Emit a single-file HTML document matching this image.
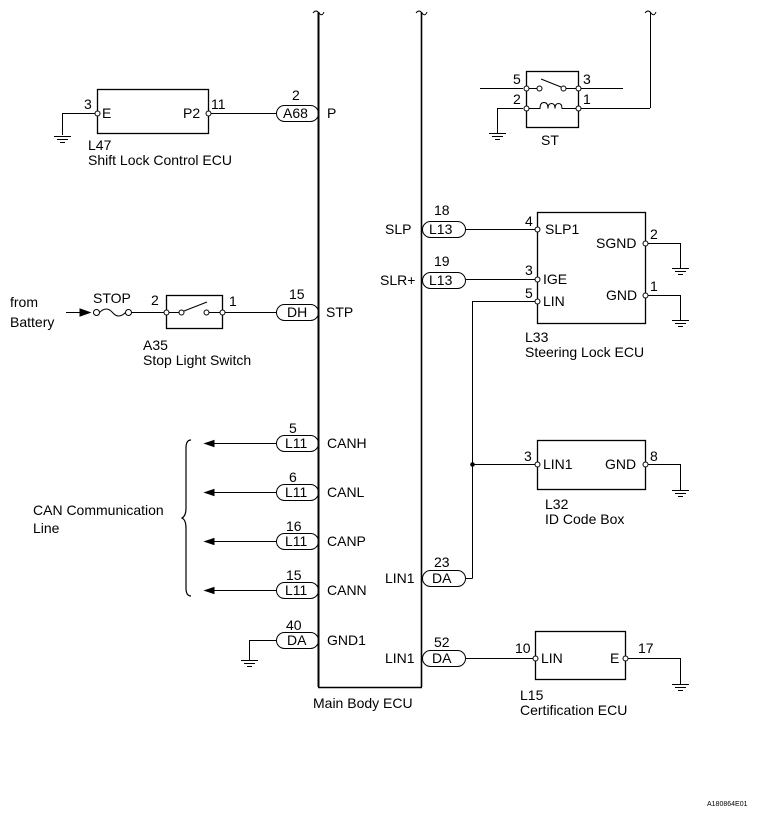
<!DOCTYPE html>
<html><head><meta charset="utf-8"><style>
html,body{margin:0;padding:0;background:#fff;}
svg{display:block;}
text{font-family:"Liberation Sans",Arial,sans-serif;font-size:14px;fill:#000;}
</style></head><body>
<svg width="761" height="815" viewBox="0 0 761 815" xmlns="http://www.w3.org/2000/svg">
<g fill="none" stroke="#000" stroke-width="1">
<line x1="318.5" y1="12" x2="318.5" y2="687" stroke-width="2"/>
<line x1="421.5" y1="12" x2="421.5" y2="687" stroke-width="1.6"/>
<line x1="318" y1="687.5" x2="422" y2="687.5" stroke-width="1.4"/>
<path d="M313 13 q3 -4 6 0 q3 4 5 -1"/>
<path d="M416 13 q3 -4 6 0 q3 4 5 -1"/>
<path d="M645 13 q3 -4 6 0 q3 4 5 -1"/>
<line x1="650.5" y1="12" x2="650.5" y2="108"/>
<line x1="650" y1="108.5" x2="581" y2="108.5"/>

<rect x="526.5" y="71.5" width="52" height="56" stroke-width="1.3"/>
<line x1="480" y1="88.5" x2="523" y2="88.5"/>
<line x1="581" y1="88.5" x2="623" y2="88.5"/>
<line x1="523" y1="108.5" x2="497.5" y2="108.5"/>
<line x1="497.5" y1="108" x2="497.5" y2="133"/>
<circle cx="526.5" cy="88.5" r="2.5" fill="#fff"/><circle cx="578.5" cy="88.5" r="2.5" fill="#fff"/>
<circle cx="526.5" cy="108.5" r="2.5" fill="#fff"/><circle cx="578.5" cy="108.5" r="2.5" fill="#fff"/>
<line x1="529" y1="88.5" x2="537" y2="88.5"/><circle cx="539.5" cy="88.5" r="2.5"/>
<line x1="541" y1="79" x2="561" y2="87"/><circle cx="563.5" cy="88.5" r="2.5"/>
<line x1="566" y1="88.5" x2="576" y2="88.5"/>
<path d="M529 108.5 h11 q0 -6 4 -6 q4 0 4 6 q0 -5 3.5 -5 q3.5 0 3.5 5 q0 -5 3.5 -5 q3.5 0 3.5 5 h14"/>

<rect x="97.5" y="89.5" width="111" height="44" stroke-width="1.3"/>
<line x1="95" y1="113.5" x2="62.5" y2="113.5"/>
<line x1="62.5" y1="113" x2="62.5" y2="135"/>
<line x1="211" y1="113.5" x2="276" y2="113.5"/>
<circle cx="97.5" cy="113.5" r="2.5" fill="#fff"/><circle cx="208.5" cy="113.5" r="2.5" fill="#fff"/>

<path d="M66 312.5 h22" /><path d="M80 309 l10 3.5 l-10 3.5z" fill="#000"/>
<circle cx="96.5" cy="312.5" r="3"/><circle cx="128.5" cy="312.5" r="3"/>
<path d="M99.5 312.5 q7 -7 13 0 q6 7 13 0"/>
<line x1="131" y1="312.5" x2="164" y2="312.5"/>
<rect x="166.5" y="295.5" width="56" height="33" stroke-width="1.3"/>
<circle cx="166.5" cy="312.5" r="2.5" fill="#fff"/><circle cx="222.5" cy="312.5" r="2.5" fill="#fff"/>
<line x1="169" y1="312.5" x2="179" y2="312.5"/><circle cx="181.5" cy="312.5" r="2.5"/>
<line x1="184" y1="311" x2="207" y2="302"/><circle cx="206.5" cy="312.5" r="2.5"/>
<line x1="209" y1="312.5" x2="220" y2="312.5"/>
<line x1="225" y1="312.5" x2="276" y2="312.5"/>

<rect x="276.5" y="105.5" width="42" height="16" rx="8"/>
<rect x="276.5" y="304.5" width="42" height="16" rx="8"/>
<rect x="276.5" y="435.5" width="42" height="16" rx="8"/>
<rect x="276.5" y="484.5" width="42" height="16" rx="8"/>
<rect x="276.5" y="533.5" width="42" height="16" rx="8"/>
<rect x="276.5" y="582.5" width="42" height="16" rx="8"/>
<rect x="276.5" y="632.5" width="42" height="16" rx="8"/>
<line x1="276" y1="443.5" x2="214" y2="443.5"/><path d="M214 440.5 l-9 3 l9 3z" fill="#000"/>
<line x1="276" y1="492.5" x2="214" y2="492.5"/><path d="M214 489.5 l-9 3 l9 3z" fill="#000"/>
<line x1="276" y1="541.5" x2="214" y2="541.5"/><path d="M214 538.5 l-9 3 l9 3z" fill="#000"/>
<line x1="276" y1="590.5" x2="214" y2="590.5"/><path d="M214 587.5 l-9 3 l9 3z" fill="#000"/>
<path d="M191 440 q-5 0 -5 8 v60 q0 8 -4 10 q4 2 4 10 v60 q0 8 5 8" stroke-width="1.2"/>
<line x1="276" y1="640.5" x2="249.5" y2="640.5"/><line x1="249.5" y1="640" x2="249.5" y2="660"/>

<rect x="422.5" y="221.5" width="43" height="16" rx="8"/>
<rect x="422.5" y="272.5" width="43" height="16" rx="8"/>
<rect x="422.5" y="570.5" width="43" height="16" rx="8"/>
<rect x="422.5" y="650.5" width="43" height="16" rx="8"/>
<line x1="466" y1="229.5" x2="535" y2="229.5"/>
<line x1="466" y1="279.5" x2="535" y2="279.5"/>
<line x1="535" y1="301.5" x2="472.5" y2="301.5"/>
<line x1="472.5" y1="301" x2="472.5" y2="578.5"/>
<line x1="472.5" y1="578.5" x2="466" y2="578.5"/>
<circle cx="472.5" cy="464.5" r="1.8" fill="#000"/>
<line x1="472" y1="464.5" x2="535" y2="464.5"/>
<line x1="466" y1="658.5" x2="533" y2="658.5"/>

<rect x="537.5" y="212.5" width="108" height="111" stroke-width="1.3"/>
<circle cx="537.5" cy="229.5" r="2.5" fill="#fff"/><circle cx="537.5" cy="279.5" r="2.5" fill="#fff"/><circle cx="537.5" cy="301.5" r="2.5" fill="#fff"/>
<circle cx="645.5" cy="243.5" r="2.5" fill="#fff"/><circle cx="645.5" cy="295.5" r="2.5" fill="#fff"/>
<line x1="648" y1="243.5" x2="680.5" y2="243.5"/><line x1="680.5" y1="243" x2="680.5" y2="268"/>
<line x1="648" y1="295.5" x2="680.5" y2="295.5"/><line x1="680.5" y1="295" x2="680.5" y2="320"/>

<rect x="537.5" y="440.5" width="108" height="49" stroke-width="1.3"/>
<circle cx="537.5" cy="464.5" r="2.5" fill="#fff"/><circle cx="645.5" cy="464.5" r="2.5" fill="#fff"/>
<line x1="648" y1="464.5" x2="680.5" y2="464.5"/><line x1="680.5" y1="464" x2="680.5" y2="490"/>

<rect x="535.5" y="631.5" width="90" height="48" stroke-width="1.3"/>
<circle cx="535.5" cy="658.5" r="2.5" fill="#fff"/><circle cx="625.5" cy="658.5" r="2.5" fill="#fff"/>
<line x1="628" y1="658.5" x2="680.5" y2="658.5"/><line x1="680.5" y1="658" x2="680.5" y2="684"/>

<path d="M54 136.5h17M57 139.5h11M60 142.5h5"/>
<path d="M489 133.5h17M492 136.5h11M495 139.5h5"/>
<path d="M241 660.5h17M244 663.5h11M247 666.5h5"/>
<path d="M672 268.5h17M675 271.5h11M678 274.5h5"/>
<path d="M672 320.5h17M675 323.5h11M678 326.5h5"/>
<path d="M672 490.5h17M675 493.5h11M678 496.5h5"/>
<path d="M672 684.5h17M675 687.5h11M678 690.5h5"/>
</g>

<text x="84" y="109">3</text><text x="102" y="118">E</text>
<text x="183" y="118">P2</text><text x="211" y="109">11</text>
<text x="88" y="150">L47</text><text x="88" y="165">Shift Lock Control ECU</text>
<text x="292" y="100">2</text><text x="283" y="118">A68</text><text x="327" y="118">P</text>

<text x="10" y="307">from</text><text x="10" y="327">Battery</text>
<text x="93" y="303">STOP</text><text x="151" y="305">2</text><text x="229" y="306">1</text>
<text x="143" y="350">A35</text><text x="143" y="365">Stop Light Switch</text>
<text x="289" y="299">15</text><text x="287" y="317">DH</text><text x="326" y="317">STP</text>

<text x="513" y="84">5</text><text x="583" y="84">3</text><text x="513" y="104">2</text><text x="583" y="104">1</text>
<text x="541" y="145">ST</text>

<text x="434" y="215">18</text><text x="429" y="234">L13</text><text x="385" y="234">SLP</text>
<text x="434" y="266">19</text><text x="429" y="285">L13</text><text x="380" y="285">SLR+</text>
<text x="525" y="226">4</text><text x="545" y="234">SLP1</text>
<text x="525" y="275">3</text><text x="543" y="284">IGE</text>
<text x="525" y="298">5</text><text x="543" y="306">LIN</text>
<text x="596" y="248">SGND</text><text x="650" y="239">2</text>
<text x="606" y="300">GND</text><text x="650" y="291">1</text>
<text x="525" y="342">L33</text><text x="525" y="357">Steering Lock ECU</text>

<text x="289" y="433">5</text><text x="285" y="448">L11</text><text x="327" y="448">CANH</text>
<text x="289" y="482">6</text><text x="285" y="497">L11</text><text x="327" y="497">CANL</text>
<text x="286" y="531">16</text><text x="285" y="546">L11</text><text x="327" y="546">CANP</text>
<text x="286" y="580">15</text><text x="285" y="595">L11</text><text x="327" y="595">CANN</text>
<text x="286" y="630">40</text><text x="287" y="645">DA</text><text x="327" y="645">GND1</text>
<text x="33" y="515">CAN Communication</text><text x="33" y="533">Line</text>

<text x="524" y="461">3</text><text x="543" y="469">LIN1</text><text x="605" y="469">GND</text><text x="650" y="461">8</text>
<text x="545" y="509">L32</text><text x="545" y="524">ID Code Box</text>
<text x="434" y="567">23</text><text x="432" y="583">DA</text><text x="385" y="583">LIN1</text>
<text x="434" y="647">52</text><text x="432" y="663">DA</text><text x="385" y="663">LIN1</text>
<text x="515" y="653">10</text><text x="541" y="663">LIN</text><text x="610" y="663">E</text><text x="638" y="653">17</text>
<text x="520" y="700">L15</text><text x="520" y="715">Certification ECU</text>
<text x="313" y="708">Main Body ECU</text>
<text x="707" y="806" style="font-size:7px">A180864E01</text>
</svg>
</body></html>
